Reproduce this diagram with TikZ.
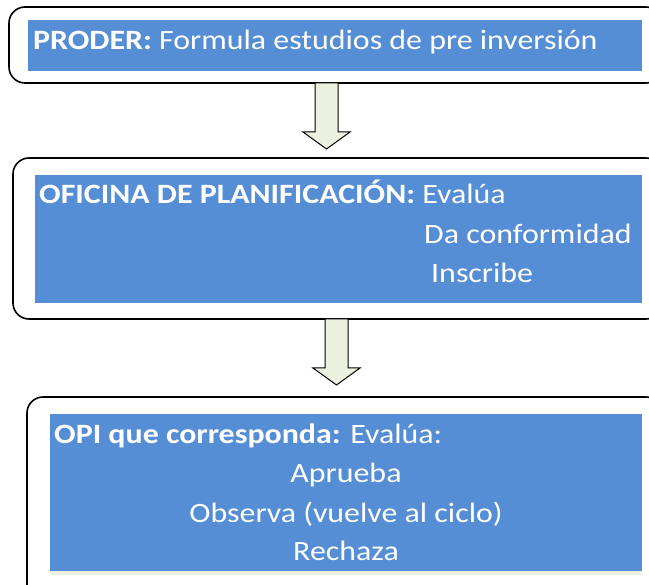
\documentclass[tikz,border=0pt]{standalone}
\usepackage{fontspec}
\setmainfont{Carlito}[FakeStretch=1.14]
\usetikzlibrary{calc}
\definecolor{boxblue}{RGB}{85,142,213}
\definecolor{arrgreen}{RGB}{235,241,222}
\tikzset{
  outerbox/.style={draw=black, line width=1.6pt, rounded corners=16pt, fill=white, inner sep=0pt},
  bluebox/.style={fill=boxblue, draw=none, inner sep=0pt},
  txt/.style={text=white, inner sep=0pt, anchor=base west, font=\fontsize{28}{34}\selectfont},
  ctxt/.style={text=white, inner sep=0pt, anchor=base, font=\fontsize{28}{34}\selectfont},
  blockarr/.style={draw=black, line width=1pt, fill=arrgreen, line join=miter}
}
\newcommand{\blockarrow}[2]{%
  \draw[blockarr] ($(#1)+(-11.5,0)$) -- ($(#1)+(11.5,0)$) -- ($(#2)+(11.5,-17)$) -- ($(#2)+(23.5,-17)$) -- (#2) -- ($(#2)+(-23.5,-17)$) -- ($(#2)+(-11.5,-17)$) -- cycle;}
\begin{document}
\begin{tikzpicture}[x=1pt,y=-1pt]
\useasboundingbox (0,0) rectangle (649,585);
\clip (0,0) rectangle (649,585);
% box 1
\draw[outerbox] (9,7) rectangle (662,83);
\node[bluebox, minimum width=614pt, minimum height=51pt] (b1) at (335,45.5) {};
\node[txt] (t1) at (33,50) {\textbf{PRODER:} Formula estudios de pre inversión};
% arrow 1
\coordinate (a1s) at (326.5,83);
\coordinate (a1e) at (326.5,149);
\blockarrow{a1s}{a1e}
% box 2
\draw[outerbox] (13,158) rectangle (662,319);
\node[bluebox, minimum width=607pt, minimum height=128pt] (b2) at (338.5,239) {};
\node[txt] (t2a) at (39,204) {\textbf{OFICINA DE PLANIFICACIÓN:} Evalúa};
\node[txt] (t2b) at (424,244) {Da conformidad};
\node[txt] (t2c) at (431,283) {Inscribe};
% arrow 2
\coordinate (a2s) at (336.5,319);
\coordinate (a2e) at (336.5,385);
\blockarrow{a2s}{a2e}
% box 3
\draw[outerbox] (27,397) rectangle (662,610);
\node[fill=arrgreen, inner sep=0pt, minimum width=592pt, minimum height=4pt] (g3) at (346,573) {};
\node[bluebox, minimum width=592pt, minimum height=157pt] (b3) at (346,492.5) {};
\node[txt] (t3a) at (54,444) {\textbf{OPI que corresponda:} Evalúa:};
\node[ctxt] (t3b) at (346,483) {Aprueba};
\node[ctxt] (t3c) at (346,523) {Observa (vuelve al ciclo)};
\node[ctxt] (t3d) at (346,561) {Rechaza};
\end{tikzpicture}
\end{document}
